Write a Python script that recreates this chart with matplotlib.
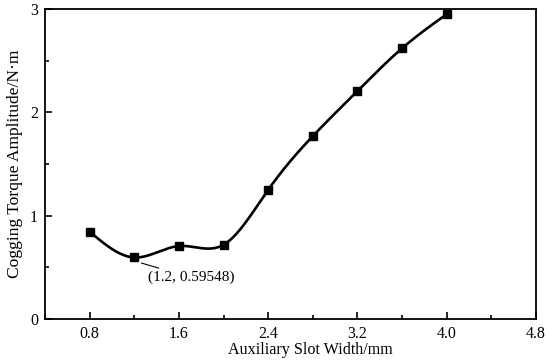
import numpy as np
import matplotlib
matplotlib.use("Agg")
import matplotlib.pyplot as plt
from matplotlib.ticker import MultipleLocator

slot_width = [0.8, 1.2, 1.6, 2.0, 2.4, 2.8, 3.2, 3.6, 4.0]
torque = [0.845, 0.59548, 0.706, 0.718, 1.25, 1.77, 2.206, 2.62, 2.95]

def natural_spline(x, y, xs):
    x = np.asarray(x, float); y = np.asarray(y, float)
    n = len(x)
    h = np.diff(x)
    A = np.zeros((n, n)); b = np.zeros(n)
    A[0, 0] = 1; A[-1, -1] = 1
    for i in range(1, n - 1):
        A[i, i - 1] = h[i - 1]
        A[i, i] = 2 * (h[i - 1] + h[i])
        A[i, i + 1] = h[i]
        b[i] = 3 * ((y[i + 1] - y[i]) / h[i] - (y[i] - y[i - 1]) / h[i - 1])
    c = np.linalg.solve(A, b)
    out = np.empty_like(xs)
    for k, xv in enumerate(xs):
        i = min(max(np.searchsorted(x, xv) - 1, 0), n - 2)
        dx = xv - x[i]
        bi = (y[i + 1] - y[i]) / h[i] - h[i] * (2 * c[i] + c[i + 1]) / 3
        di = (c[i + 1] - c[i]) / (3 * h[i])
        out[k] = y[i] + bi * dx + c[i] * dx ** 2 + di * dx ** 3
    return out

plt.rcParams['font.family'] = ['Liberation Serif', 'DejaVu Serif']
fig = plt.figure(figsize=(5.5, 3.64), dpi=100)
ax = fig.add_axes([45 / 550, 1 - 319 / 364, 491 / 550, 310 / 364])

xs = np.linspace(slot_width[0], slot_width[-1], 400)
ax.plot(xs, natural_spline(slot_width, torque, xs), color='black', lw=1.9)
ax.plot(slot_width, torque, 's', color='black', ms=5.5)

ax.set_xlim(0.4, 4.8)
ax.set_ylim(0, 3)
ax.xaxis.set_minor_locator(MultipleLocator(0.4))
ax.yaxis.set_major_locator(MultipleLocator(1))
ax.yaxis.set_minor_locator(MultipleLocator(0.5))
ax.set_xticks([0.8, 1.6, 2.4, 3.2, 4.0, 4.8])
ax.set_xticklabels(['0.8', '1.6', '2.4', '3.2', '4.0', '4.8'])
ax.tick_params(which='both', direction='in', labelsize=11.5, width=1.2)
ax.tick_params(which='major', length=5)
ax.tick_params(which='minor', length=3)
ax.tick_params(axis='x', pad=5)
ax.tick_params(axis='y', pad=5)
for s in ax.spines.values():
    s.set_linewidth(1.3)

ax.set_xlabel('Auxiliary Slot Width/mm', fontsize=11.6, labelpad=0)
ax.xaxis.label.set_x(0.54)
ax.set_ylabel('Cogging Torque Amplitude/N·m', fontsize=12.6, labelpad=5)

ax.annotate('(1.2, 0.59548)', xy=(1.263, 0.542), xytext=(1.32, 0.40),
            fontsize=11, va='center', ha='left',
            arrowprops=dict(arrowstyle='-', color='black', lw=0.8,
                            shrinkA=0, shrinkB=0))

fig.savefig('out.png', dpi=100)
